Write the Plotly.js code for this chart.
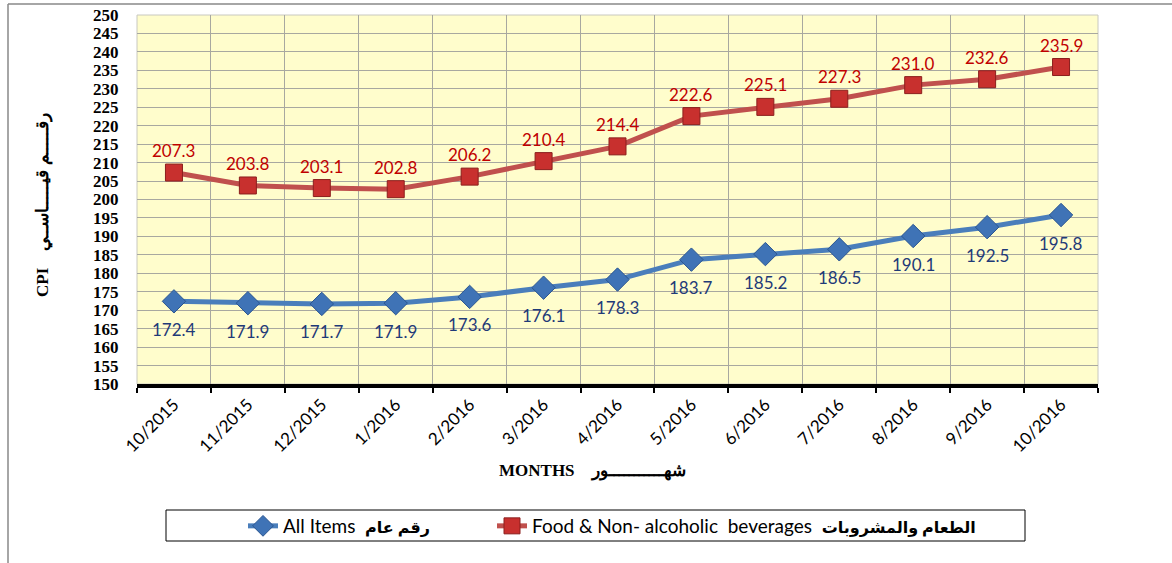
<!DOCTYPE html>
<html>
<head>
<meta charset="utf-8">
<script src="https://cdn.plot.ly/plotly-3.0.1.min.js"></script>
<style>html,body{margin:0;padding:0;background:#fff;}#chart{width:1172px;height:563px;}</style>
</head>
<body>
<div id="chart"></div>
<script>
const months = ["10/2015","11/2015","12/2015","1/2016","2/2016","3/2016","4/2016","5/2016","6/2016","7/2016","8/2016","9/2016","10/2016"];
const allItems = [172.4,171.9,171.7,171.9,173.6,176.1,178.3,183.7,185.2,186.5,190.1,192.5,195.8];
const foodBev = [207.3,203.8,203.1,202.8,206.2,210.4,214.4,222.6,225.1,227.3,231.0,232.6,235.9];
const nameAll = "All Items  <span style=\"font-size:16px\"><b>رقم عام</b></span>";
const nameFood = "Food & Non- alcoholic  beverages  <span style=\"font-size:16px\"><b>الطعام والمشروبات</b></span>";
const yTicks = [150,155,160,165,170,175,180,185,190,195,200,205,210,215,220,225,230,235,240,245,250];

const sansFam = "Lato, 'Noto Sans', 'DejaVu Sans', sans-serif";
const serifFam = "'Liberation Serif', 'DejaVu Serif', serif";

const traces = [
  {
    x: months, y: allItems, name: nameAll, type: "scatter", mode: "lines+markers",
    line: {color: "#4A7EBB", width: 5},
    marker: {symbol: "diamond", size: 18, color: "#3F73B6", line: {color: "#2A5590", width: 1}},
    legend: "legend"
  },
  {
    x: months, y: foodBev, name: nameFood, type: "scatter", mode: "lines+markers",
    line: {color: "#C0504D", width: 5},
    marker: {symbol: "square", size: 17, color: "#C8302E", line: {color: "#8B1F1D", width: 1}},
    legend: "legend2"
  }
];

const L = 137, R = 1098, T = 15, B = 384;
const W = R - L, H = B - T;
function px(x){ return (x - L) / W; }
function py(y){ return (B - y) / H; }

const annotations = [];
months.forEach((m, i) => {
  annotations.push({x: m, y: foodBev[i], xref: "x", yref: "y", text: foodBev[i].toFixed(1),
    showarrow: false, yshift: 22, xanchor: "center", yanchor: "middle",
    font: {family: sansFam, size: 17, color: "#C00000"}});
  annotations.push({x: m, y: allItems[i], xref: "x", yref: "y", text: allItems[i].toFixed(1),
    showarrow: false, yshift: -28, xanchor: "center", yanchor: "middle",
    font: {family: sansFam, size: 17, color: "#1F3A78"}});
});
annotations.push(
  {text: "<b>CPI    رقـــــم قيـــــاســي</b>", xref: "paper", yref: "paper", x: px(43), y: py(205),
   xanchor: "center", yanchor: "middle", textangle: -90, showarrow: false,
   font: {family: serifFam, size: 17, color: "#000"}},
  {text: "<b>MONTHS    شهـــــــــــور</b>", xref: "paper", yref: "paper", x: px(592), y: py(471),
   xanchor: "center", yanchor: "middle", showarrow: false,
   font: {family: serifFam, size: 17, color: "#000"}}
);

const legendBase = {
  orientation: "h", yanchor: "middle", xanchor: "left",
  bgcolor: "rgba(0,0,0,0)", borderwidth: 0,
  font: {family: sansFam, size: 19, color: "#000"},
  itemwidth: 30
};

const layout = {
  width: 1172, height: 563,
  margin: {l: L, r: 1172 - R, t: T, b: 563 - B},
  paper_bgcolor: "#ffffff",
  plot_bgcolor: "#FFFDCC",
  showlegend: true,
  legend: Object.assign({}, legendBase, {x: px(243), y: py(526)}),
  legend2: Object.assign({}, legendBase, {x: px(492), y: py(526)}),
  xaxis: {
    type: "category", tickson: "boundaries", range: [-0.5, 12.5],
    ticks: "outside", ticklen: 5, tickwidth: 2, tickcolor: "#000",
    showline: true, linecolor: "#000", linewidth: 4,
    showgrid: true, gridcolor: "#A8A8A0", gridwidth: 1,
    tickangle: -45,
    tickfont: {family: sansFam, size: 17, color: "#000"},
    zeroline: false
  },
  yaxis: {
    range: [150, 250], tickvals: yTicks, ticktext: yTicks.map(String),
    ticks: "outside", ticklen: 14, tickcolor: "rgba(0,0,0,0)",
    showgrid: true, gridcolor: "#A8A8A0", gridwidth: 1,
    showline: false, zeroline: false,
    tickfont: {family: serifFam, size: 17, color: "#000", weight: "bold"}
  },
  shapes: [
    {type: "rect", xref: "paper", yref: "paper", x0: 0, x1: 1, y0: 0, y1: 1, line: {color: "#C8C8C0", width: 1}, layer: "below"},
    {type: "rect", xref: "paper", yref: "paper", x0: px(166), x1: px(1025), y0: py(510), y1: py(541), line: {color: "#000", width: 1}, fillcolor: "rgba(0,0,0,0)"},
    {type: "line", xref: "paper", yref: "paper", x0: px(8), x1: px(1172), y0: py(4), y1: py(4), line: {color: "#888", width: 1.5}},
    {type: "line", xref: "paper", yref: "paper", x0: px(8), x1: px(8), y0: py(4), y1: py(563), line: {color: "#888", width: 1.5}}
  ],
  annotations: annotations
};

Plotly.newPlot("chart", traces, layout, {displayModeBar: false, responsive: false});
</script>
</body>
</html>
